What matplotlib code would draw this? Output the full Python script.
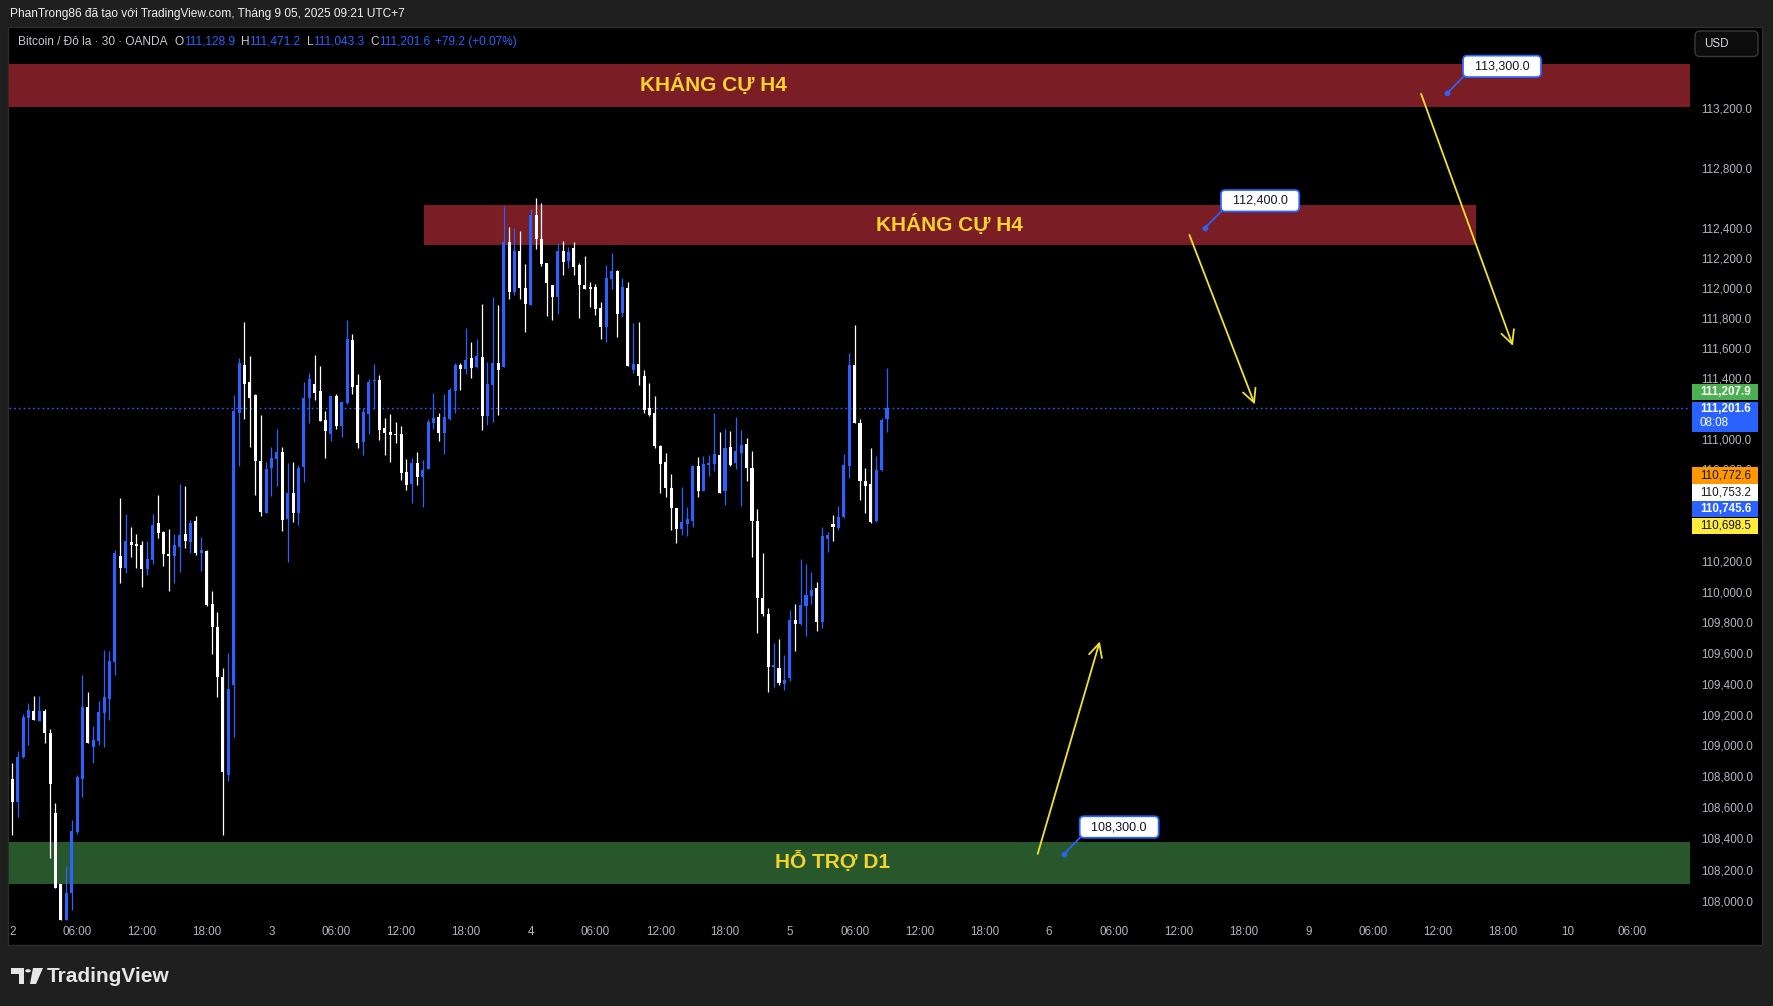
import matplotlib
matplotlib.use("Agg")
import matplotlib.pyplot as plt
from matplotlib.patches import Rectangle, FancyBboxPatch, Polygon, Circle
from matplotlib.ticker import NullLocator, NullFormatter
import numpy as np

plt.rcParams["font.family"] = ["Liberation Sans", "DejaVu Sans"]

W, H = 1773, 1006

# 30 minute candles, BTC/USD (OANDA), from Sept 2 00:00
opens = [108785, 108637, 108924, 109176, 109221, 109156, 109221, 109078, 108564, 108108,
         107876, 108049, 108440, 108785, 109247, 108993, 109026, 109208, 109299, 109540,
         110230, 110152, 110321, 110308, 110302, 110146, 110204, 110445, 110386, 110243,
         110230, 110289, 110373, 110321, 110459, 110251, 110262, 109919, 109769, 109446,
         108809, 109391, 111173, 111491, 111374, 111288, 110854, 110515, 110811, 110868,
         110915, 110477, 110644, 110511, 110818, 111270, 111360, 111315, 111123, 111035,
         111281, 111087, 111238, 111656, 111354, 110983, 111164, 111381, 111388, 111071,
         111045, 111032, 111032, 110781, 110704, 110840, 110750, 110803, 111106, 111144,
         111040, 111133, 111318, 111487, 111463, 111533, 111476, 111540, 111153, 111357,
         111500, 111476, 112305, 111971, 112246, 112002, 111885, 112484, 112325, 112167,
         112019, 111939, 112243, 112177, 112263, 112151, 112019, 112005, 112005, 111867,
         111741, 112058, 112111, 111834, 111999, 111458, 111497, 111418, 111207, 111174,
         110956, 110850, 110679, 110547, 110408, 110441, 110461, 110824, 110659, 110831,
         110837, 110897, 110655, 110950, 110839, 110911, 110969, 110806, 110459, 109958,
         109854, 109511, 109505, 109397, 109434, 109815, 109785, 109908, 109971, 110020,
         109804, 110341, 110439, 110415, 110485, 110821, 111490, 111107, 110721, 110701,
         110461, 110793, 111128.9]
highs = [108889, 108967, 109202, 109273, 109323, 109323, 109236, 109104, 108627, 108108,
         108225, 108518, 108811, 109455, 109345, 109123, 109286, 109618, 109610, 110269,
         110614, 110510, 110419, 110373, 110328, 110328, 110504, 110634, 110399, 110412,
         110373, 110705, 110692, 110471, 110492, 110355, 110271, 110002, 109867, 109500,
         109602, 111288, 111537, 111774, 111550, 111295, 111157, 110850, 110947, 111064,
         110947, 110843, 110850, 110829, 111374, 111433, 111557, 111485, 111186, 111281,
         111295, 111250, 111787, 111695, 111426, 111202, 111399, 111494, 111421, 111137,
         111164, 111111, 111084, 110867, 110873, 110913, 110860, 111131, 111302, 111170,
         111296, 111335, 111500, 111500, 111731, 111639, 111659, 111896, 111507, 111942,
         111883, 112543, 112404, 112398, 112378, 112160, 112523, 112602, 112563, 112167,
         112019, 112296, 112309, 112269, 112302, 112164, 112210, 112038, 112025, 111906,
         112151, 112230, 112118, 112065, 112038, 111768, 111774, 111458, 111372, 111286,
         110963, 110910, 110771, 110547, 110685, 110553, 110831, 110883, 110890, 110897,
         111174, 111048, 111067, 111054, 111147, 111061, 111008, 110924, 110537, 110249,
         109893, 109666, 109692, 109589, 109880, 109919, 110210, 110177, 110125, 110059,
         110419, 110387, 110498, 110557, 110904, 111569, 111754, 111133, 110812, 110943,
         110891, 111140, 111471.2]
lows = [108423, 108540, 108920, 109002, 109162, 109156, 109015, 108273, 108084, 107876,
        107876, 107941, 108431, 108670, 109015, 108885, 109006, 108993, 109165, 109458,
        110057, 110122, 110224, 110152, 110028, 110106, 110178, 110347, 110165, 110002,
        110054, 110126, 110282, 110250, 110239, 110135, 109903, 109591, 109313, 108421,
        108771, 109054, 110825, 111132, 110949, 110635, 110497, 110515, 110628, 110694,
        110398, 110194, 110456, 110438, 110714, 111107, 111259, 111121, 110877, 110987,
        111067, 111015, 111232, 111297, 110942, 110897, 111035, 111201, 110992, 110895,
        110849, 110974, 110730, 110664, 110578, 110697, 110552, 110803, 111067, 110988,
        110902, 111126, 111172, 111324, 111430, 111403, 111469, 111060, 111093, 111113,
        111159, 111476, 111925, 111951, 111925, 111707, 111885, 112261, 112143, 111813,
        111788, 111827, 112085, 112131, 112085, 111801, 111992, 111873, 111821, 111662,
        111642, 111992, 111675, 111807, 111484, 111438, 111359, 111174, 111154, 110943,
        110646, 110619, 110402, 110316, 110369, 110362, 110421, 110619, 110659, 110758,
        110791, 110646, 110563, 110821, 110801, 110559, 110721, 110225, 109727, 109843,
        109345, 109377, 109390, 109358, 109416, 109610, 109779, 109707, 109921, 109740,
        109759, 110258, 110330, 110402, 110480, 110742, 111107, 110598, 110513, 110448,
        110454, 110789, 111043.3]
closes = [108637, 108928, 109182, 109228, 109162, 109221, 109080, 108748, 108084, 107876,
          108049, 108446, 108798, 109247, 109015, 109032, 109215, 109312, 109547, 110250,
          110152, 110328, 110302, 110295, 110146, 110211, 110438, 110380, 110243, 110230,
          110302, 110367, 110328, 110451, 110251, 110269, 109912, 109767, 109442, 108829,
          109368, 111186, 111505, 111363, 111270, 110852, 110522, 110802, 110874, 110915,
          110470, 110644, 110511, 110807, 111268, 111394, 111304, 111121, 111053, 111281,
          111087, 111243, 111663, 111342, 110976, 111177, 111374, 111388, 111060, 111040,
          111027, 111027, 110776, 110697, 110840, 110750, 110794, 111111, 111137, 111040,
          111144, 111322, 111487, 111463, 111520, 111469, 111546, 111153, 111362, 111500,
          111456, 112305, 111971, 112246, 111997, 111892, 112484, 112327, 112156, 112030,
          111939, 112243, 112170, 112236, 112137, 112019, 111992, 111992, 111860, 111741,
          112065, 112111, 111827, 112005, 111484, 111497, 111418, 111194, 111161, 110956,
          110837, 110679, 110547, 110408, 110454, 110474, 110824, 110659, 110837, 110844,
          110903, 110646, 110943, 110832, 110924, 110963, 110806, 110459, 109960, 109854,
          109511, 109518, 109403, 109421, 109815, 109785, 109912, 109977, 110013, 109804,
          110360, 110367, 110419, 110485, 110832, 111490, 111107, 110727, 110694, 110452,
          110799, 111122.4, 111201.6]

time_labels = ["2", "06:00", "12:00", "18:00", "3", "06:00", "12:00", "18:00",
               "4", "06:00", "12:00", "18:00", "5", "06:00", "12:00", "18:00",
               "6", "06:00", "12:00", "18:00", "9", "06:00", "12:00", "18:00",
               "10", "06:00"]
price_ticks = [113200, 112800, 112400, 112200, 112000, 111800, 111600, 111400,
               111000, 110800, 110200, 110000, 109800, 109600, 109400, 109200,
               109000, 108800, 108600, 108400, 108200, 108000]

# zones drawn on the chart
res_top = (113210, 113500)
res_mid = (112285, 112550)
res_mid_span = (76.2, 271.0)
support = (108110, 108380)

callouts = [(265.7, 113300.0), (220.9, 112400.0), (194.8, 108300.0)]
arrows = [((260.9, 113297), (277.9, 111615)),
          ((218.0, 112352), (230.1, 111228)),
          ((189.9, 108301), (201.4, 109675))]

# labels stacked on the price scale
side_values = [111207.9, 111201.6, 110772.6, 110753.2, 110745.6, 110698.5]
side_colors = ["#4caf50", "#2962ff", "#ff9800", "#ffffff", "#2962ff", "#ffeb3b"]
side_text = ["white", "white", "#131722", "#131722", "white", "#131722"]
countdown = "08:08"

BG = "#1f1f1f"
UP = "#2962ff"
DOWN = "#ffffff"
AXTXT = "#b2b5be"
RED = "#7a1d25"
GREEN = "#27572b"
YEL = "#f3d32c"
ARROW = "#f2e22e"


def fx(x):
    return x / W


def fy(y):
    return 1 - y / H


fig = plt.figure(figsize=(W / 100, H / 100), dpi=100, facecolor=BG)

# black chart pane
fig.add_artist(Rectangle((fx(8), fy(945)), (1762 - 8) / W, (945 - 27) / H,
                         transform=fig.transFigure, fc="black", ec="#2c2c2c",
                         lw=1, zorder=-1))

ax = fig.add_axes([fx(9), fy(922), (1690 - 9) / W, (922 - 27) / H])
ax.patch.set_visible(False)
for s in ax.spines.values():
    s.set_visible(False)

ax.set_yscale("log")
ax.set_xlim((9 - 12.3) / 5.4, 310.7)
ax.set_ylim(107864, 113747)

x = np.arange(len(opens))
o = np.array(opens)
c = np.array(closes)
cols = [UP if cc >= oo else DOWN for oo, cc in zip(o, c)]

# zones
ax.axhspan(*res_top, color=RED, lw=0, zorder=1)
ax.axhspan(*support, color=GREEN, lw=0, zorder=1)
ax.add_patch(Rectangle((res_mid_span[0], res_mid[0]), res_mid_span[1] - res_mid_span[0],
                       res_mid[1] - res_mid[0], fc=RED, lw=0, zorder=1))

ax.axhline(closes[-1], color=UP, ls=(0, (1.2, 2.2)), lw=1, zorder=1.5)

# candles
ax.vlines(x, lows, highs, colors=cols, lw=0.9, zorder=3)
body_lo = np.minimum(o, c)
body_h = np.maximum(np.abs(c - o), 8)
ax.bar(x, body_h, bottom=body_lo, width=0.58, color=cols, lw=0, zorder=3)

# zone captions
ax.text(129.9, 113362, "KHÁNG CỰ H4", color=YEL, fontsize=15, fontweight="bold",
        ha="center", va="center", zorder=4)
ax.text(173.5, 112425, "KHÁNG CỰ H4", color=YEL, fontsize=15, fontweight="bold",
        ha="center", va="center", zorder=4)
ax.text(152.0, 108250, "HỖ TRỢ D1", color=YEL, fontsize=15, fontweight="bold",
        ha="center", va="center", zorder=4)

# arrows
for (x0, p0), (x1, p1) in arrows:
    ax.annotate("", xy=(x1, p1), xytext=(x0, p0),
                arrowprops=dict(arrowstyle="->,head_length=0.8,head_width=0.4",
                                color=ARROW, lw=1.3, shrinkA=0, shrinkB=0,
                                mutation_scale=12), zorder=5)

# price callouts
for cx, cp in callouts:
    ax.annotate(f"  {cp:,.1f}  ", xy=(cx, cp), xytext=(55, 27),
                textcoords="offset pixels", ha="center", va="center",
                fontsize=9, color="#131722", zorder=6,
                bbox=dict(boxstyle="round,pad=0.38,rounding_size=0.35",
                          fc="white", ec=UP, lw=1.3),
                arrowprops=dict(arrowstyle="-", color=UP, lw=1.3,
                                relpos=(0, 0), shrinkA=0, shrinkB=0))
    ax.plot(cx, cp, "o", ms=3, color=UP, zorder=6)

# axes ticks
ax.set_xticks(np.arange(len(time_labels)) * 12)
ax.set_xticklabels(time_labels)
ax.yaxis.tick_right()
ax.set_yticks(price_ticks)
ax.set_yticklabels([f"{p:,.1f}" for p in price_ticks])
ax.yaxis.set_minor_locator(NullLocator())
ax.yaxis.set_minor_formatter(NullFormatter())
ax.tick_params(axis="x", length=0, pad=3, labelsize=8.4, labelcolor=AXTXT)
ax.tick_params(axis="y", length=0, pad=8, labelsize=8.4, labelcolor=AXTXT)

# stacked price scale labels
box_tops = [384, 401.5, 467, 484, 500.5, 517.5]
box_heights = [16, 30, 17, 16.5, 16.5, 16.5]
for val, fc, tc, top, hh in zip(side_values, side_colors, side_text, box_tops, box_heights):
    fig.add_artist(Rectangle((fx(1692), fy(top + hh)), 66 / W, hh / H,
                             transform=fig.transFigure, fc=fc, lw=0, zorder=5))
    ty = top + 8 if hh > 20 else top + hh / 2
    fig.text(fx(1700), fy(ty), f"{val:,.1f}", color=tc, fontsize=8.4,
             fontweight="bold" if tc == "white" else "normal",
             ha="left", va="center", zorder=6)
fig.text(fx(1700), fy(423), countdown, color="white", fontsize=8.4,
         ha="left", va="center", zorder=6)

# currency button
fig.add_artist(FancyBboxPatch((fx(1695), fy(56.5)), 63 / W, 25.5 / H,
                              boxstyle=f"round,pad=0,rounding_size={5 / W}",
                              mutation_aspect=W / H, transform=fig.transFigure,
                              fc="#0c0c0c", ec="#3a3a3a", lw=1, zorder=5))
fig.text(fx(1704), fy(44), "USD", color="#d1d4dc", fontsize=8.4,
         ha="left", va="center", zorder=6)

# header line
fig.text(fx(10), fy(14), "PhanTrong86 đã tạo với TradingView.com, Tháng 9 05, 2025 09:21 UTC+7",
         color="#f0f0f0", fontsize=8.6, ha="left", va="center")

# symbol legend
renderer = fig.canvas.get_renderer()
chg = closes[-1] - closes[-2]
pct = chg / closes[-2] * 100
parts = [("Bitcoin / Đô la · 30 · OANDA", "#c8cad0", 7),
         ("O", "#c8cad0", 0), (f"{opens[-1]:,.1f}", UP, 6),
         ("H", "#c8cad0", 0), (f"{highs[-1]:,.1f}", UP, 6),
         ("L", "#c8cad0", 0), (f"{lows[-1]:,.1f}", UP, 6),
         ("C", "#c8cad0", 0), (f"{closes[-1]:,.1f}", UP, 5),
         (f"{chg:+.1f} ({pct:+.2f}%)", UP, 0)]
xpos = 18
for s, col, gap in parts:
    t = fig.text(fx(xpos), fy(42), s, color=col, fontsize=8.6, ha="left", va="center")
    xpos += t.get_window_extent(renderer).width + gap

# TradingView logo
logo = "#e6e6e6"
fig.add_artist(Polygon([(fx(11), fy(968)), (fx(24), fy(968)), (fx(24), fy(984)),
                        (fx(18.5), fy(984)), (fx(18.5), fy(973.5)), (fx(11), fy(973.5))],
                       closed=True, transform=fig.transFigure, fc=logo, lw=0))
fig.add_artist(Circle((fx(28), fy(970.8)), 2.8 / W, transform=fig.transFigure,
                      fc=logo, lw=0))
fig.add_artist(Polygon([(fx(33), fy(968)), (fx(43), fy(968)), (fx(36), fy(984)),
                        (fx(30), fy(984))],
                       closed=True, transform=fig.transFigure, fc=logo, lw=0))
fig.text(fx(47), fy(976), "TradingView", color=logo, fontsize=15,
         fontweight="bold", ha="left", va="center")

fig.savefig("out.png", dpi=100, facecolor=BG)
